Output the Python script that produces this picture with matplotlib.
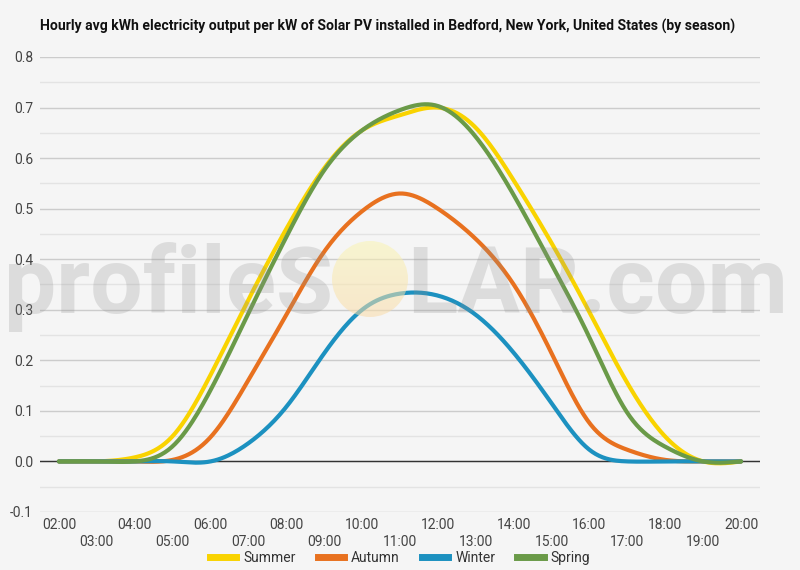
import numpy as np
import matplotlib
matplotlib.use("Agg")
import matplotlib.pyplot as plt
from matplotlib.patches import Circle
from matplotlib.lines import Line2D

# === Data: hourly avg kWh per kW installed ===
hours = ["02:00", "03:00", "04:00", "05:00", "06:00", "07:00", "08:00", "09:00", "10:00",
         "11:00", "12:00", "13:00", "14:00", "15:00", "16:00", "17:00", "18:00", "19:00", "20:00"]
summer = [0.0, 0.0, 0.008, 0.05, 0.171, 0.32, 0.46, 0.58, 0.655, 0.685, 0.70, 0.66, 0.556,
          0.432, 0.295, 0.155, 0.049, 0.0, 0.0]
autumn = [0.0, 0.0, 0.0, 0.003, 0.048, 0.161, 0.29, 0.415, 0.495, 0.53, 0.50, 0.44, 0.35,
          0.214, 0.076, 0.023, 0.003, 0.0, 0.0]
winter = [0.0, 0.0, 0.0, 0.0, 0.0, 0.036, 0.108, 0.214, 0.30, 0.332, 0.328, 0.29, 0.215,
          0.115, 0.023, 0.0, 0.0, 0.0, 0.0]
spring = [0.0, 0.0, 0.0, 0.03, 0.141, 0.293, 0.444, 0.576, 0.655, 0.695, 0.703, 0.642, 0.527,
          0.39, 0.245, 0.096, 0.029, 0.0, 0.0]

series = [("Summer", summer, "#f9d300"),
          ("Autumn", autumn, "#e8711f"),
          ("Winter", winter, "#1c91c0"),
          ("Spring", spring, "#6a9a48")]

FONT = "Roboto"
BG = "#f5f5f5"


def natural_spline(x, y, n=400):
    # plain natural cubic spline, only used to draw the smoothed line
    x = np.asarray(x, float)
    y = np.asarray(y, float)
    k = len(x)
    h = np.diff(x)
    A = np.zeros((k, k))
    b = np.zeros(k)
    A[0, 0] = A[-1, -1] = 1
    for i in range(1, k - 1):
        A[i, i - 1] = h[i - 1]
        A[i, i] = 2 * (h[i - 1] + h[i])
        A[i, i + 1] = h[i]
        b[i] = 3 * ((y[i + 1] - y[i]) / h[i] - (y[i] - y[i - 1]) / h[i - 1])
    c = np.linalg.solve(A, b)
    bb = np.diff(y) / h - h * (2 * c[:-1] + c[1:]) / 3
    d = np.diff(c) / (3 * h)
    xs = np.linspace(x[0], x[-1], n)
    idx = np.clip(np.searchsorted(x, xs) - 1, 0, k - 2)
    dx = xs - x[idx]
    ys = y[idx] + bb[idx] * dx + c[idx] * dx ** 2 + d[idx] * dx ** 3
    return xs, ys


fig = plt.figure(figsize=(8, 5.7), dpi=100, facecolor=BG)
ax = fig.add_axes([0.05, 0.1018, 0.90, 0.7982], facecolor=BG)

xpos = np.arange(len(hours))
for name, vals, col in series:
    xs, ys = natural_spline(xpos, vals)
    ax.plot(xs, ys, color=col, lw=3.0, solid_capstyle="round", zorder=3)

ax.set_xlim(-0.5, len(hours) - 0.5)
ax.set_ylim(-0.1, 0.8)
yt = np.arange(-0.1, 0.81, 0.1)
ax.set_yticks(yt)
ax.set_yticklabels([f"{v:.1f}" for v in yt])
ax.set_yticks(np.arange(-0.05, 0.8, 0.1), minor=True)
ax.grid(axis="y", which="major", color="#cccccc", lw=1.0, zorder=0)
ax.grid(axis="y", which="minor", color="#e3e3e3", lw=1.0, zorder=0)
ax.axhline(0, color="#333333", lw=1.0, zorder=2)
for s in ax.spines.values():
    s.set_visible(False)

ax.set_xticks(xpos)
ax.set_xticklabels([h if i % 2 == 0 else "\n" + h for i, h in enumerate(hours)],
                   fontfamily=FONT, fontsize=10, color="#444444", linespacing=1.35)
ax.tick_params(axis="both", which="both", length=0, pad=5)
ax.tick_params(axis="x", pad=4)
for lab in ax.get_yticklabels():
    lab.set_fontfamily(FONT)
    lab.set_fontsize(10)
    lab.set_color("#444444")

fig.text(0.05, 0.953, "Hourly avg kWh electricity output per kW of Solar PV installed in Bedford, New York, United States (by season)",
         fontfamily=FONT, fontweight="bold", fontsize=10.05, color="#111111", ha="left", va="center")

handles = [Line2D([], [], color=c, lw=5) for _, _, c in series]
fig.legend(handles, [n for n, _, _ in series], loc="center", bbox_to_anchor=(0.5, 0.021),
           ncol=4, frameon=False, handlelength=1.9, handletextpad=0.5, columnspacing=1.6,
           prop={"family": FONT, "size": 10}, labelcolor="#333333")

# === Watermark overlay (pixel coords) ===
ov = fig.add_axes([0, 0, 1, 1], facecolor="none", zorder=10)
ov.set_xlim(0, 800)
ov.set_ylim(570, 0)
ov.axis("off")
wm = dict(fontfamily=FONT, fontweight="bold", fontsize=67, color="#8f8f8f", alpha=0.24,
          va="baseline")
ov.text(333, 313, "profileS", ha="right", **wm)
ov.text(407, 313, "LAR.com", ha="left", **wm)

cx, cy, r = 370, 279, 38
grad = np.zeros((60, 2, 4))
top = np.array([0.98, 0.96, 0.70])
bot = np.array([0.98, 0.86, 0.66])
for i in range(60):
    t = i / 59
    grad[i, :, :3] = top * (1 - t) + bot * t
grad[:, :, 3] = 0.55
im = ov.imshow(grad, extent=(cx - r, cx + r, cy + r, cy - r), aspect="auto", zorder=5)
im.set_clip_path(Circle((cx, cy), r, transform=ov.transData))

fig.savefig("out.png", dpi=100, facecolor=BG)
